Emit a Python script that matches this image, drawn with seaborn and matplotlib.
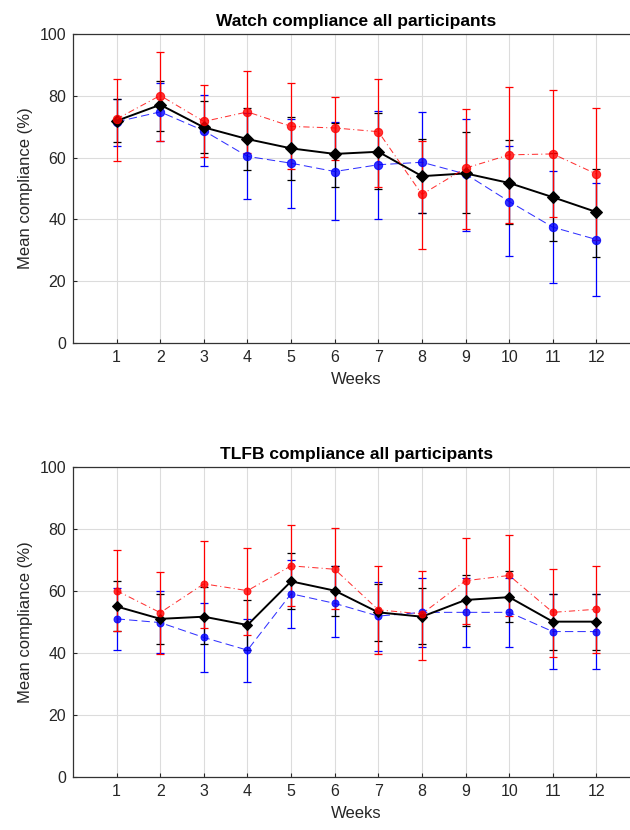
import numpy as np
import pandas as pd
import matplotlib
matplotlib.use('Agg')
import matplotlib.pyplot as plt
import seaborn as sns

weeks = list(range(1, 13))

# Watch compliance: mean, lower and upper error bar ends
watch_red = [72.5, 80.1, 71.7, 74.8, 70.1, 69.6, 68.4, 48.1, 56.6, 60.9, 61.2, 54.7]
watch_red_lo = [58.9, 65.5, 60.1, 61.4, 56.4, 59.3, 50.6, 30.5, 36.8, 38.8, 40.7, 33.2]
watch_red_hi = [85.6, 94.3, 83.4, 88.0, 84.2, 79.6, 85.6, 65.5, 75.9, 82.7, 81.9, 76.2]
watch_blue = [71.6, 74.8, 68.7, 60.4, 58.2, 55.5, 57.7, 58.5, 54.7, 45.8, 37.5, 33.5]
watch_blue_lo = [63.9, 65.5, 57.4, 46.5, 43.8, 39.7, 40.0, 42.2, 36.1, 28.1, 19.3, 15.2]
watch_blue_hi = [79.1, 84.3, 80.3, 74.4, 72.5, 71.4, 75.2, 74.8, 72.5, 63.9, 55.8, 51.7]
watch_black = [71.9, 77.1, 69.8, 66.0, 63.0, 61.2, 61.9, 54.0, 54.9, 51.8, 47.2, 42.4]
watch_black_lo = [64.9, 68.7, 61.5, 56.1, 52.9, 50.6, 49.7, 42.2, 42.0, 38.4, 32.9, 27.8]
watch_black_hi = [79.1, 84.8, 78.2, 76.2, 73.2, 71.1, 74.4, 66.0, 68.4, 65.8, 61.5, 56.4]

# TLFB compliance
tlfb_red = [60.1, 53.0, 62.3, 60.1, 68.1, 67.0, 53.9, 52.6, 63.3, 65.0, 53.1, 54.1]
tlfb_red_lo = [47.0, 39.8, 48.0, 45.8, 55.0, 54.1, 39.8, 37.7, 49.4, 52.0, 38.8, 39.9]
tlfb_red_hi = [73.1, 66.2, 76.1, 74.0, 81.3, 80.2, 68.1, 66.3, 77.2, 78.2, 67.0, 68.1]
tlfb_blue = [51.0, 49.8, 45.0, 40.9, 59.1, 56.0, 51.9, 53.1, 53.1, 53.1, 46.9, 46.9]
tlfb_blue_lo = [40.8, 40.0, 33.7, 30.7, 48.0, 45.0, 40.7, 42.0, 42.0, 42.0, 34.8, 34.8]
tlfb_blue_hi = [60.9, 60.0, 56.0, 51.0, 70.0, 67.9, 63.0, 64.1, 64.2, 64.2, 59.0, 59.0]
tlfb_black = [55.0, 51.0, 51.7, 49.0, 63.1, 60.1, 53.1, 51.7, 57.1, 58.0, 50.1, 50.1]
tlfb_black_lo = [47.0, 42.9, 42.9, 40.9, 54.2, 52.0, 43.9, 42.8, 48.8, 50.1, 40.9, 40.9]
tlfb_black_hi = [63.1, 59.1, 61.4, 57.1, 72.2, 68.1, 62.2, 60.9, 65.0, 66.3, 59.1, 59.1]

titles = ['Watch compliance all participants', 'TLFB compliance all participants']

sns.set_theme(style='whitegrid')
plt.rcParams['font.family'] = ['Liberation Sans', 'DejaVu Sans']
plt.rcParams['xtick.direction'] = 'in'
plt.rcParams['ytick.direction'] = 'in'

fig = plt.figure(figsize=(6.3, 8.3), dpi=100)
ax_top = fig.add_axes([0.1159, 0.5867, 0.9, 0.3723])
ax_bot = fig.add_axes([0.1159, 0.0639, 0.9, 0.3735])

panels = [
    (ax_top, titles[0],
     [(watch_blue, watch_blue_lo, watch_blue_hi),
      (watch_black, watch_black_lo, watch_black_hi),
      (watch_red, watch_red_lo, watch_red_hi)], 6),
    (ax_bot, titles[1],
     [(tlfb_blue, tlfb_blue_lo, tlfb_blue_hi),
      (tlfb_black, tlfb_black_lo, tlfb_black_hi),
      (tlfb_red, tlfb_red_lo, tlfb_red_hi)], 5),
]

# colour, dash pattern (scaled by line width), marker, line width
styles = [
    ('blue', (8, 4), 'o', 0.75),
    ('black', '', 'D', 1.4),
    ('red', (6, 3, 1, 3), 'o', 0.75),
]

for ax, title, series, msize in panels:
    for (mean, lo, hi), (col, dash, mk, lw) in zip(series, styles):
        m = np.array(mean)
        yerr = [m - np.array(lo), np.array(hi) - m]
        ax.errorbar(weeks, m, yerr=yerr, fmt='none', ecolor=col,
                    elinewidth=0.9, capsize=3, capthick=0.9, zorder=3)
        df = pd.DataFrame({'week': weeks, 'value': mean})
        sns.lineplot(data=df, x='week', y='value', ax=ax, color=col,
                     linewidth=lw, marker=mk, markersize=msize,
                     markeredgecolor=col, dashes=False, zorder=4)
        if dash != '':
            ax.lines[-1].set_dashes(dash)
            ax.lines[-1].set_alpha(0.8)
    ax.set_xlim(0, 13)
    ax.set_ylim(0, 100)
    ax.set_xticks(weeks)
    ax.set_yticks([0, 20, 40, 60, 80, 100])
    ax.set_xlabel('Weeks', fontsize=12, color='#262626', labelpad=5)
    ax.set_ylabel('Mean compliance (%)', fontsize=12, color='#262626', labelpad=5)
    ax.set_title(title, fontsize=12.5, fontweight='bold', color='black', pad=6)
    ax.tick_params(labelsize=11.5, colors='#262626', length=3, width=0.8,
                   pad=5, bottom=True, left=True, top=False, right=False)
    ax.grid(True, color='#dcdcdc', linewidth=0.8)
    ax.set_facecolor('white')
    for s in ax.spines.values():
        s.set_color('#333333')
        s.set_linewidth(0.9)
        s.set_visible(True)

fig.savefig('out.png', dpi=100, facecolor='white')
